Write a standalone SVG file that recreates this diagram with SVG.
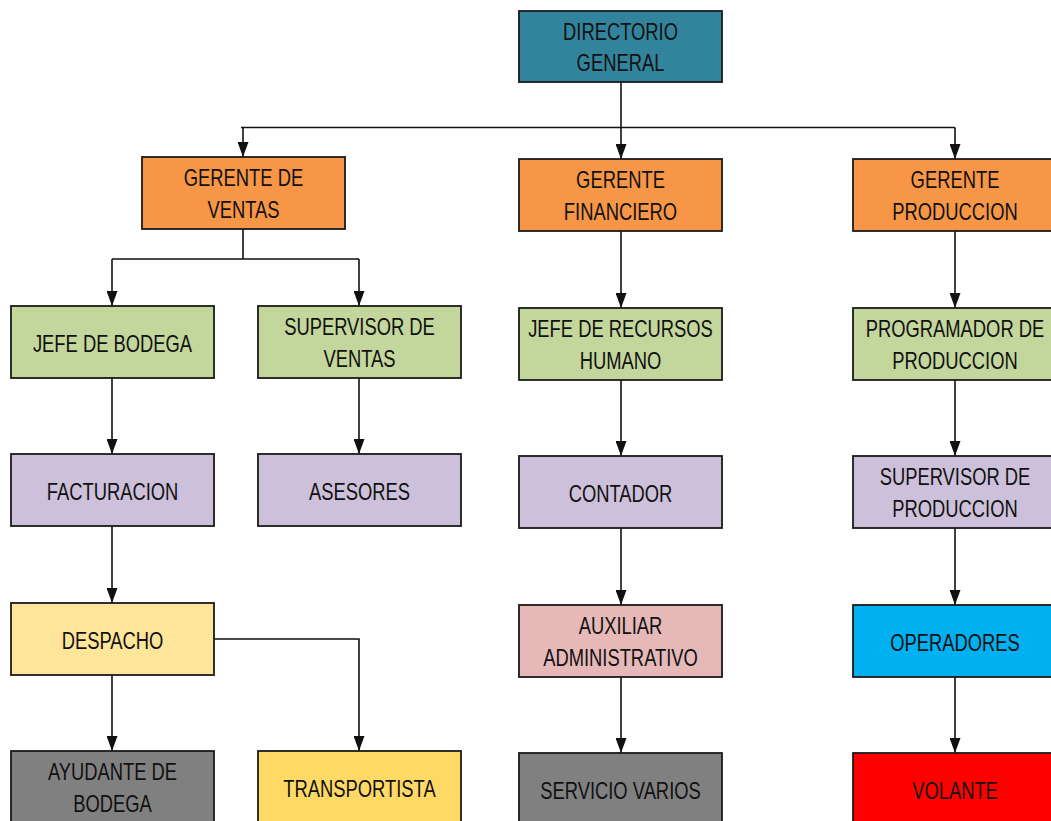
<svg xmlns="http://www.w3.org/2000/svg" width="1051" height="821" viewBox="0 0 1051 821">
<style>
.box{stroke:#1a1a1a;stroke-width:1.8}
.t{font-family:"Liberation Sans",Arial,sans-serif;font-size:24.5px;text-anchor:middle;fill:#111}
.c{fill:none;stroke:#111;stroke-width:1.6}
.a{marker-end:url(#arr)}
</style>
<defs>
<marker id="arr" markerUnits="userSpaceOnUse" viewBox="0 0 15 11" markerWidth="15" markerHeight="11" refX="15" refY="5.5" orient="auto">
<path d="M0,0 L15,5.5 L0,11 z" fill="#111"/>
</marker>
</defs>
<rect width="1051" height="821" fill="#fff"/>
<g id="connectors">
<path class="c" d="M621,82 V127.5"/>
<path class="c" d="M241,127.5 H955"/>
<path class="c a" d="M243,127.5 V157"/>
<path class="c a" d="M621,127.5 V159"/>
<path class="c a" d="M955,127.5 V159"/>
<path class="c" d="M243,229 V259 M112,259 H359"/>
<path class="c a" d="M112,259 V306"/>
<path class="c a" d="M359,259 V306"/>
<path class="c a" d="M112,378 V454"/>
<path class="c a" d="M359,378 V454"/>
<path class="c a" d="M112,526 V603"/>
<path class="c a" d="M112,675 V751"/>
<path class="c a" d="M214,639 H359 V751"/>
<path class="c a" d="M621,231 V308"/>
<path class="c a" d="M621,380 V456"/>
<path class="c a" d="M621,528 V605"/>
<path class="c a" d="M621,677 V753"/>
<path class="c a" d="M955,231 V308"/>
<path class="c a" d="M955,380 V456"/>
<path class="c a" d="M955,528 V605"/>
<path class="c a" d="M955,677 V753"/>
</g>
<g id="directorio">
<rect class="box" x="519" y="11" width="203" height="71" fill="#31849B"/>
<text class="t" transform="translate(620.5,39.5) scale(0.75,1)">DIRECTORIO</text>
<text class="t" transform="translate(620.5,71) scale(0.75,1)">GENERAL</text>
</g>
<g id="gerente-ventas">
<rect class="box" x="142" y="157" width="203" height="72" fill="#F79646"/>
<text class="t" transform="translate(243.5,186) scale(0.75,1)">GERENTE DE</text>
<text class="t" transform="translate(243.5,217.5) scale(0.75,1)">VENTAS</text>
</g>
<g id="gerente-financiero">
<rect class="box" x="519" y="159" width="203" height="72" fill="#F79646"/>
<text class="t" transform="translate(620.5,188) scale(0.75,1)">GERENTE</text>
<text class="t" transform="translate(620.5,219.5) scale(0.75,1)">FINANCIERO</text>
</g>
<g id="gerente-produccion">
<rect class="box" x="853" y="159" width="203" height="72" fill="#F79646"/>
<text class="t" transform="translate(955,188) scale(0.75,1)">GERENTE</text>
<text class="t" transform="translate(955,219.5) scale(0.75,1)">PRODUCCION</text>
</g>
<g id="jefe-bodega">
<rect class="box" x="11" y="306" width="203" height="72" fill="#C3D69B"/>
<text class="t" transform="translate(112.5,352) scale(0.75,1)">JEFE DE BODEGA</text>
</g>
<g id="supervisor-ventas">
<rect class="box" x="258" y="306" width="203" height="72" fill="#C3D69B"/>
<text class="t" transform="translate(359.5,335) scale(0.75,1)">SUPERVISOR DE</text>
<text class="t" transform="translate(359.5,366.5) scale(0.75,1)">VENTAS</text>
</g>
<g id="jefe-recursos">
<rect class="box" x="519" y="308" width="203" height="72" fill="#C3D69B"/>
<text class="t" transform="translate(620.5,337) scale(0.75,1)">JEFE DE RECURSOS</text>
<text class="t" transform="translate(620.5,368.5) scale(0.75,1)">HUMANO</text>
</g>
<g id="programador">
<rect class="box" x="853" y="308" width="203" height="72" fill="#C3D69B"/>
<text class="t" transform="translate(955,337) scale(0.75,1)">PROGRAMADOR DE</text>
<text class="t" transform="translate(955,368.5) scale(0.75,1)">PRODUCCION</text>
</g>
<g id="facturacion">
<rect class="box" x="11" y="454" width="203" height="72" fill="#CCC0DA"/>
<text class="t" transform="translate(112.5,500) scale(0.75,1)">FACTURACION</text>
</g>
<g id="asesores">
<rect class="box" x="258" y="454" width="203" height="72" fill="#CCC0DA"/>
<text class="t" transform="translate(359.5,500) scale(0.75,1)">ASESORES</text>
</g>
<g id="contador">
<rect class="box" x="519" y="456" width="203" height="72" fill="#CCC0DA"/>
<text class="t" transform="translate(620.5,502) scale(0.75,1)">CONTADOR</text>
</g>
<g id="supervisor-produccion">
<rect class="box" x="853" y="456" width="203" height="72" fill="#CCC0DA"/>
<text class="t" transform="translate(955,485) scale(0.75,1)">SUPERVISOR DE</text>
<text class="t" transform="translate(955,516.5) scale(0.75,1)">PRODUCCION</text>
</g>
<g id="despacho">
<rect class="box" x="11" y="603" width="203" height="72" fill="#FFE599"/>
<text class="t" transform="translate(112.5,649) scale(0.75,1)">DESPACHO</text>
</g>
<g id="auxiliar">
<rect class="box" x="519" y="605" width="203" height="72" fill="#E6B9B8"/>
<text class="t" transform="translate(620.5,634) scale(0.75,1)">AUXILIAR</text>
<text class="t" transform="translate(620.5,665.5) scale(0.75,1)">ADMINISTRATIVO</text>
</g>
<g id="operadores">
<rect class="box" x="853" y="605" width="203" height="72" fill="#00B0F0"/>
<text class="t" transform="translate(955,651) scale(0.75,1)">OPERADORES</text>
</g>
<g id="ayudante">
<rect class="box" x="11" y="751" width="203" height="72" fill="#808080"/>
<text class="t" transform="translate(112.5,780) scale(0.75,1)">AYUDANTE DE</text>
<text class="t" transform="translate(112.5,811.5) scale(0.75,1)">BODEGA</text>
</g>
<g id="transportista">
<rect class="box" x="258" y="751" width="203" height="72" fill="#FFD966"/>
<text class="t" transform="translate(359.5,797) scale(0.75,1)">TRANSPORTISTA</text>
</g>
<g id="servicio">
<rect class="box" x="519" y="753" width="203" height="72" fill="#808080"/>
<text class="t" transform="translate(620.5,799) scale(0.75,1)">SERVICIO VARIOS</text>
</g>
<g id="volante">
<rect class="box" x="853" y="753" width="203" height="72" fill="#FF0000"/>
<text class="t" transform="translate(955,799) scale(0.75,1)">VOLANTE</text>
</g>
</svg>
